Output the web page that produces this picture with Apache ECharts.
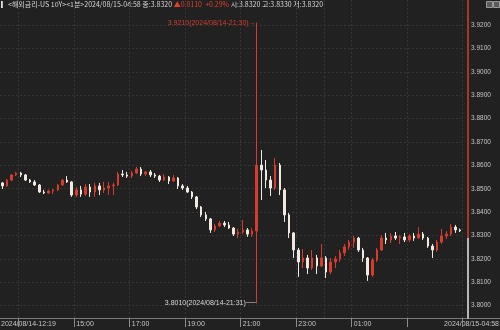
<!DOCTYPE html>
<html><head><meta charset="utf-8">
<script src="https://cdn.jsdelivr.net/npm/echarts@6/dist/echarts.min.js"></script>
<style>html,body{margin:0;padding:0;background:#212121}#c{width:500px;height:330px}</style>
</head><body><div id="c"></div><script>
// 10-minute buckets (start time of each bucket)
const categories = [
'12:20','12:30','12:40','12:50',
'13:00','13:10','13:20','13:30','13:40','13:50',
'14:00','14:10','14:20','14:30','14:40','14:50',
'15:00','15:10','15:20','15:30','15:40','15:50',
'16:00','16:10','16:20','16:30','16:40','16:50',
'17:00','17:10','17:20','17:30','17:40','17:50',
'18:00','18:10','18:20','18:30','18:40','18:50',
'19:00','19:10','19:20','19:30','19:40','19:50',
'20:00','20:10','20:20','20:30','20:40','20:50',
'21:00','21:10','21:20','21:30','21:40','21:50',
'22:00','22:10','22:20','22:30','22:40','22:50',
'23:00','23:10','23:20','23:30','23:40','23:50',
'00:00','00:10','00:20','00:30','00:40','00:50',
'01:00','01:10','01:20','01:30','01:40','01:50',
'02:00','02:10','02:20','02:30','02:40','02:50',
'03:00','03:10','03:20','03:30','03:40','03:50',
'04:00','04:10','04:20','04:30','04:40','04:50'];

const opens = [3.8525,3.8512,3.8537,3.8559,3.8567,3.8559,3.8537,3.8529,3.8516,3.8486,
3.8482,3.8490,3.8495,3.8516,3.8537,3.8529,3.8473,3.8495,3.8477,3.8507,
3.8486,3.8512,3.8495,3.8503,3.8512,3.8516,3.8563,3.8559,3.8554,3.8567,
3.8584,3.8563,3.8572,3.8559,3.8554,3.8537,3.8550,3.8533,3.8546,3.8512,
3.8503,3.8486,3.8465,3.8422,3.8388,3.8371,3.8324,3.8341,3.8353,3.8345,
3.8332,3.8306,3.8315,3.8324,3.8306,3.8319,3.8601,3.8580,3.8537,3.8503,
3.8601,3.8495,3.8388,3.8311,3.8238,3.8187,3.8204,3.8161,3.8204,3.8170,
3.8204,3.8144,3.8187,3.8200,3.8225,3.8251,3.8272,3.8289,3.8238,3.8204,
3.8131,3.8195,3.8238,3.8289,3.8281,3.8298,3.8289,3.8294,3.8281,3.8298,
3.8289,3.8306,3.8289,3.8255,3.8238,3.8272,3.8298,3.8306,3.8336,3.8324];

const closes = [3.8512,3.8537,3.8559,3.8567,3.8559,3.8537,3.8529,3.8516,3.8486,3.8482,
3.8490,3.8495,3.8516,3.8537,3.8529,3.8473,3.8495,3.8477,3.8507,3.8486,
3.8512,3.8495,3.8503,3.8512,3.8516,3.8563,3.8559,3.8554,3.8567,3.8584,
3.8563,3.8572,3.8559,3.8554,3.8537,3.8550,3.8533,3.8546,3.8512,3.8503,
3.8486,3.8465,3.8422,3.8388,3.8371,3.8324,3.8341,3.8353,3.8345,3.8332,
3.8306,3.8315,3.8324,3.8306,3.8319,3.8601,3.8580,3.8537,3.8503,3.8601,
3.8495,3.8388,3.8311,3.8238,3.8187,3.8204,3.8161,3.8204,3.8170,3.8204,
3.8144,3.8187,3.8200,3.8225,3.8251,3.8272,3.8289,3.8238,3.8204,3.8131,
3.8195,3.8238,3.8289,3.8281,3.8298,3.8289,3.8294,3.8281,3.8298,3.8289,
3.8306,3.8289,3.8255,3.8238,3.8272,3.8298,3.8306,3.8336,3.8324,3.8320];

const lows = [3.8499,3.8507,3.8533,3.8554,3.8550,3.8533,3.8525,3.8512,3.8482,3.8477,
3.8477,3.8477,3.8490,3.8512,3.8525,3.8465,3.8465,3.8465,3.8469,3.8465,
3.8465,3.8473,3.8482,3.8473,3.8473,3.8512,3.8550,3.8546,3.8546,3.8563,
3.8554,3.8554,3.8550,3.8546,3.8529,3.8533,3.8520,3.8529,3.8499,3.8495,
3.8482,3.8456,3.8413,3.8379,3.8362,3.8311,3.8315,3.8336,3.8336,3.8328,
3.8298,3.8289,3.8306,3.8294,3.8294,3.8010,3.8452,3.8503,3.8469,3.8495,
3.8473,3.8358,3.8289,3.8204,3.8123,3.8161,3.8135,3.8153,3.8135,3.8165,
3.8118,3.8135,3.8161,3.8187,3.8212,3.8238,3.8247,3.8230,3.8187,3.8106,
3.8123,3.8187,3.8234,3.8264,3.8268,3.8281,3.8264,3.8272,3.8272,3.8277,
3.8289,3.8281,3.8247,3.8204,3.8230,3.8264,3.8285,3.8298,3.8311,3.8315];

const highs = [3.8529,3.8542,3.8563,3.8572,3.8572,3.8563,3.8542,3.8537,3.8520,3.8495,
3.8495,3.8499,3.8520,3.8542,3.8554,3.8533,3.8507,3.8512,3.8520,3.8520,
3.8525,3.8525,3.8529,3.8529,3.8525,3.8572,3.8580,3.8572,3.8576,3.8593,
3.8593,3.8576,3.8580,3.8567,3.8559,3.8563,3.8554,3.8559,3.8550,3.8520,
3.8512,3.8490,3.8469,3.8426,3.8401,3.8375,3.8349,3.8362,3.8362,3.8358,
3.8336,3.8328,3.8366,3.8332,3.8332,3.9210,3.8666,3.8623,3.8554,3.8631,
3.8610,3.8503,3.8396,3.8315,3.8247,3.8242,3.8217,3.8238,3.8217,3.8264,
3.8212,3.8204,3.8212,3.8238,3.8264,3.8281,3.8298,3.8294,3.8247,3.8208,
3.8204,3.8247,3.8302,3.8311,3.8311,3.8315,3.8302,3.8311,3.8306,3.8311,
3.8336,3.8315,3.8294,3.8264,3.8281,3.8328,3.8319,3.8349,3.8345,3.8330];

const yTicks = [3.80,3.81,3.82,3.83,3.84,3.85,3.86,3.87,3.88,3.89,3.90,3.91,3.92];
const yMin = 3.79473, yMax = 3.93069;
const startLabel = '2024/08/14-12:19', endLabel = '2024/08/15-04:58';
const maxTime = '2024/08/14-21:30', minTime = '2024/08/14-21:31';
const changePct = '0.29';
const header = {
  name: '<해외금리-US 10Y><1분>2024/08/15-04:58',
  last: '종:3.8320',
  change: '▲0.0110  +0.29%',
  rest: '시:3.8320 고:3.8330 저:3.8320'
};

const RED = '#d63c2c', WHITE = '#efe9e2', GRID = '#363636', TXT = '#c6c6c6', BG = '#212121';
const FONT = 'Liberation Sans, Arial, sans-serif';

const data = opens.map((o, i) => [o, closes[i], lows[i], highs[i]]);
let hiIdx = 0, loIdx = 0;
highs.forEach((h, i) => { if (h > highs[hiIdx]) hiIdx = i; });
lows.forEach((l, i) => { if (l < lows[loIdx]) loIdx = i; });
const lastClose = closes[closes.length - 1];

const isOddHour = v => v.endsWith(':00') && (parseInt(v, 10) % 2 === 1);

const chart = echarts.init(document.getElementById('c'));
chart.setOption({
  backgroundColor: BG,
  animation: false,
  grid: { left: 0, right: 37.5, top: 0, bottom: 12 },
  xAxis: {
    type: 'category', data: categories, boundaryGap: true,
    axisLine: { show: false },
    axisTick: { show: true, interval: (i, v) => isOddHour(v), length: 9, lineStyle: { color: '#8c8c8c' } },
    axisLabel: { interval: (i, v) => isOddHour(v), showMinLabel: false, showMaxLabel: false, align: 'left', margin: 3, fontSize: 7, color: TXT, fontFamily: FONT },
    splitLine: { show: true, interval: (i, v) => isOddHour(v) || v === '00:00', lineStyle: { color: GRID, type: [2, 2] } }
  },
  yAxis: {
    type: 'value', position: 'right', offset: 5.5, min: yMin, max: yMax,
    axisLine: { show: true, lineStyle: { width: 1.5, color: new echarts.graphic.LinearGradient(0, 0, 0, 1, [
      { offset: 0, color: RED }, { offset: 0.745, color: RED }, { offset: 0.745, color: '#e8e8e8' }, { offset: 1, color: '#e8e8e8' }]) } },
    axisTick: { show: false, customValues: yTicks },
    axisLabel: { customValues: yTicks, formatter: v => v.toFixed(4), margin: 3, fontSize: 6.5, color: TXT, fontFamily: FONT },
    splitLine: { show: true, lineStyle: { color: GRID, type: [2, 2] } }
  },
  series: [{
    type: 'candlestick', data: data, barWidth: 2,
    itemStyle: { color: RED, color0: WHITE, borderColor: RED, borderColor0: WHITE, borderWidth: 1 },
    markPoint: {
      symbol: 'circle', symbolSize: 0, silent: true,
      label: { fontSize: 7, fontFamily: FONT, position: 'left', distance: 1 },
      data: [
        { coord: [categories[hiIdx], highs[hiIdx]], label: { color: RED, formatter: highs[hiIdx].toFixed(4) + '(' + maxTime + ')\u2192' } },
        { coord: [categories[loIdx], lows[loIdx]], label: { color: '#d8d8d8', formatter: lows[loIdx].toFixed(4) + '(' + minTime + ')\u2500\u2500' } }
      ]
    },
    markLine: {
      symbol: 'none', silent: true, lineStyle: { opacity: 0 },
      data: [{ yAxis: lastClose }],
      label: { position: 'end', distance: 7, formatter: lastClose.toFixed(4) + '\n+ ' + changePct + '%',
        backgroundColor: '#cf2e24', color: '#ffffff', padding: [1, 3], fontSize: 7, lineHeight: 9, fontFamily: FONT }
    }
  }],
  graphic: [
    { type: 'line', shape: { x1: 0, y1: 318.5, x2: 500, y2: 318.5 }, style: { stroke: '#7a7a7a', lineWidth: 1 }, silent: true },
    { type: 'text', left: 1, top: 321, style: { text: startLabel, fill: TXT, font: '7px ' + FONT } },
    { type: 'text', right: 1, top: 321, style: { text: endLabel, fill: TXT, font: '7px ' + FONT } },
    { type: 'text', left: 1, top: 1, style: {
      text: '{w|\u258E}{n|' + header.name + ' ' + header.last + ' }{r|' + header.change + '}{n| ' + header.rest + '}',
      rich: {
        w: { fill: '#e0e0e0', fontSize: 7, fontFamily: 'Noto Sans CJK KR' },
        n: { fill: '#d8d8d8', fontSize: 7, fontFamily: 'Noto Sans CJK KR' },
        r: { fill: '#e0402e', fontSize: 7, fontFamily: 'Noto Sans CJK KR' }
      } } },
    { type: 'rect', shape: { x: 486.5, y: 1.5, width: 6, height: 6 }, style: { fill: '#5a5a5a', stroke: '#9a9a9a', lineWidth: 1 } },
    { type: 'rect', shape: { x: 493.5, y: 1.5, width: 6, height: 6 }, style: { fill: '#5a5a5a', stroke: '#9a9a9a', lineWidth: 1 } }
  ]
});
</script></body></html>
